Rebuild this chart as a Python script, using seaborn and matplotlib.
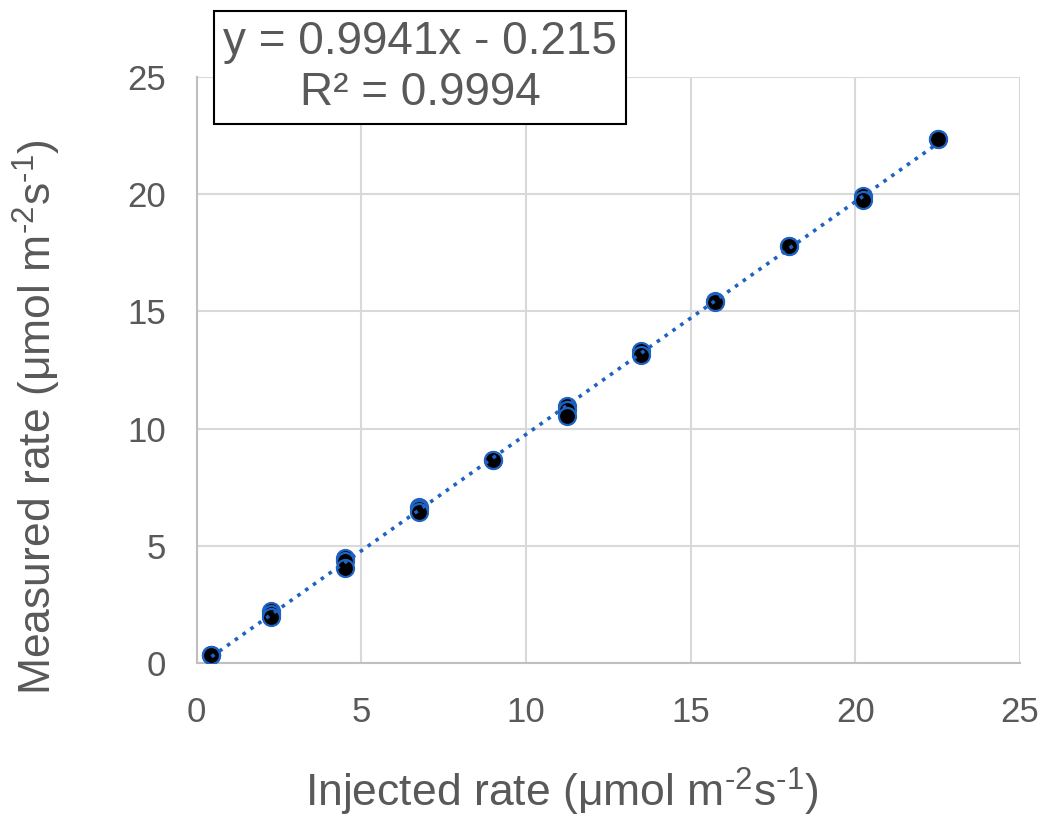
import numpy as np
import pandas as pd
import matplotlib
matplotlib.use("Agg")
import matplotlib.pyplot as plt
import seaborn as sns

injected = [0.45, 0.45, 0.45,
            2.25, 2.25, 2.25,
            4.5, 4.5, 4.5,
            6.75, 6.75, 6.75,
            9.0, 9.0,
            11.25, 11.25, 11.25,
            13.5, 13.5,
            15.75, 15.75,
            18.0, 18.0,
            20.25, 20.25,
            22.5, 22.5]
measured = [0.35, 0.33, 0.36,
            2.22, 2.10, 1.98,
            4.48, 4.35, 4.07,
            6.66, 6.55, 6.42,
            8.67, 8.64,
            10.98, 10.80, 10.55,
            13.32, 13.12,
            15.42, 15.40,
            17.80, 17.77,
            19.93, 19.76,
            22.36, 22.34]

equation_text = "y = 0.9941x - 0.215\nR\u00b2 = 0.9994"
ticks = [0, 5, 10, 15, 20, 25]

df = pd.DataFrame({"Injected": injected, "Measured": measured})

sns.set_style("whitegrid")
plt.rcParams["font.family"] = ["Liberation Sans", "DejaVu Sans"]
plt.rcParams["mathtext.fontset"] = "custom"
plt.rcParams["mathtext.rm"] = "Liberation Sans"

fig = plt.figure(figsize=(10.46, 8.18), dpi=100)
ax = fig.add_axes([0.188, 0.1895, 0.787, 0.7165])

sns.regplot(x="Injected", y="Measured", data=df, ax=ax, ci=None,
            scatter_kws={"s": 150, "color": "black", "edgecolors": "#1f63c2",
                         "linewidths": 1.6, "alpha": 1, "zorder": 3},
            line_kws={"color": "#1f63c2", "ls": ":", "lw": 2.6, "zorder": 4})

ax.set_xlim(0, 25)
ax.set_ylim(0, 25)
ax.set_xticks(ticks)
ax.set_yticks(ticks)
ax.grid(True, color="#d9d9d9", lw=1.5)
for side in ["top", "right"]:
    ax.spines[side].set_visible(False)
for side in ["left", "bottom"]:
    ax.spines[side].set_color("#bfbfbf")
    ax.spines[side].set_linewidth(1.5)

ax.tick_params(axis="both", labelsize=25, colors="#595959", length=0)
ax.tick_params(axis="x", pad=24)
ax.tick_params(axis="y", pad=22)

ax.set_xlabel("Injected rate (\u03bcmol m$^{\\text{-2}}$s$^{\\text{-1}}$)", fontsize=32,
              color="#595959")
ax.set_ylabel("Measured rate (\u03bcmol m$^{\\text{-2}}$s$^{\\text{-1}}$)", fontsize=32,
              color="#595959")
ax.xaxis.set_label_coords(0.4435, -0.175)
ax.yaxis.set_label_coords(-0.162, 0.42)

fig.text(0.4015, 0.9175, equation_text, fontsize=33, color="#595959",
         ha="center", va="center", linespacing=1.2,
         bbox=dict(boxstyle="square,pad=0.2", fc="white", ec="black", lw=1.5))

fig.savefig("out.png", dpi=100)
plt.close()
